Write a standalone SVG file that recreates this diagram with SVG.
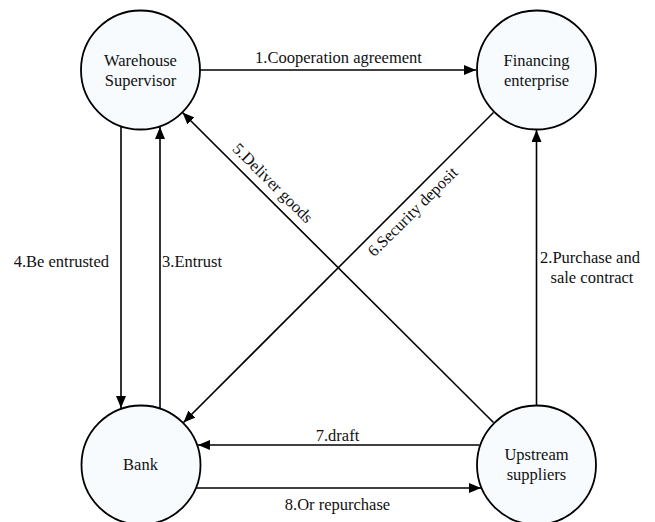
<svg xmlns="http://www.w3.org/2000/svg" width="655" height="522" viewBox="0 0 655 522" font-family="'Liberation Serif', 'Times New Roman', 'DejaVu Serif', serif">
  <defs>
    <marker id="arrow" markerUnits="userSpaceOnUse" markerWidth="12" markerHeight="10" refX="12" refY="5" orient="auto">
      <path d="M0,0 L12,5 L0,10 z" fill="#000"/>
    </marker>
    <style>
      .node circle { fill: #f8fbfd; stroke: #000; stroke-width: 1.8; }
      text { font-family: 'Liberation Serif', 'Times New Roman', 'DejaVu Serif', serif; font-size: 16.5px; fill: #111; }
      .node text { text-anchor: middle; }
      .edge { stroke: #000; stroke-width: 1.6; fill: none; marker-end: url(#arrow); }
    </style>
  </defs>
  <rect width="655" height="522" fill="#fff"/>

  <!-- connectors and their labels -->
  <g id="connectors">
    <line class="edge" x1="200" y1="70" x2="476" y2="70"/>
    <line class="edge" x1="536.5" y1="405" x2="536.5" y2="130"/>
    <line class="edge" x1="160" y1="408" x2="160" y2="127"/>
    <line class="edge" x1="121" y1="127" x2="121" y2="408"/>
    <line class="edge" x1="493.5" y1="422.5" x2="182.5" y2="112.5"/>
    <line class="edge" x1="493.5" y1="112.5" x2="183.5" y2="422.5"/>
    <line class="edge" x1="479.5" y1="445" x2="198" y2="445"/>
    <line class="edge" x1="196.5" y1="488" x2="481" y2="488"/>

    <text x="338.5" y="63" text-anchor="middle">1.Cooperation agreement</text>
    <text x="590" y="263" text-anchor="middle">2.Purchase and</text>
    <text x="592" y="283" text-anchor="middle">sale contract</text>
    <text x="162" y="267">3.Entrust</text>
    <text x="109" y="267" text-anchor="end">4.Be entrusted</text>
    <text text-anchor="middle" transform="translate(269,187) rotate(44.8)">5.Deliver goods</text>
    <text text-anchor="middle" transform="translate(416.5,215.5) rotate(-44.8)">6.Security deposit</text>
    <text x="337.5" y="441" text-anchor="middle">7.draft</text>
    <text x="337.5" y="510" text-anchor="middle">8.Or repurchase</text>
  </g>

  <!-- nodes -->
  <g id="warehouse-supervisor" class="node">
    <circle cx="140.5" cy="70" r="59.5"/>
    <text x="140.5" y="65.5">Warehouse</text>
    <text x="140.5" y="85.5">Supervisor</text>
  </g>
  <g id="financing-enterprise" class="node">
    <circle cx="536.5" cy="70" r="59.5"/>
    <text x="536.5" y="65.5">Financing</text>
    <text x="536.5" y="85.5">enterprise</text>
  </g>
  <g id="bank" class="node">
    <circle cx="141" cy="465" r="59.5"/>
    <text x="140.5" y="470">Bank</text>
  </g>
  <g id="upstream-suppliers" class="node">
    <circle cx="536.5" cy="465" r="59.5"/>
    <text x="536.5" y="460">Upstream</text>
    <text x="536.5" y="480">suppliers</text>
  </g>
</svg>
